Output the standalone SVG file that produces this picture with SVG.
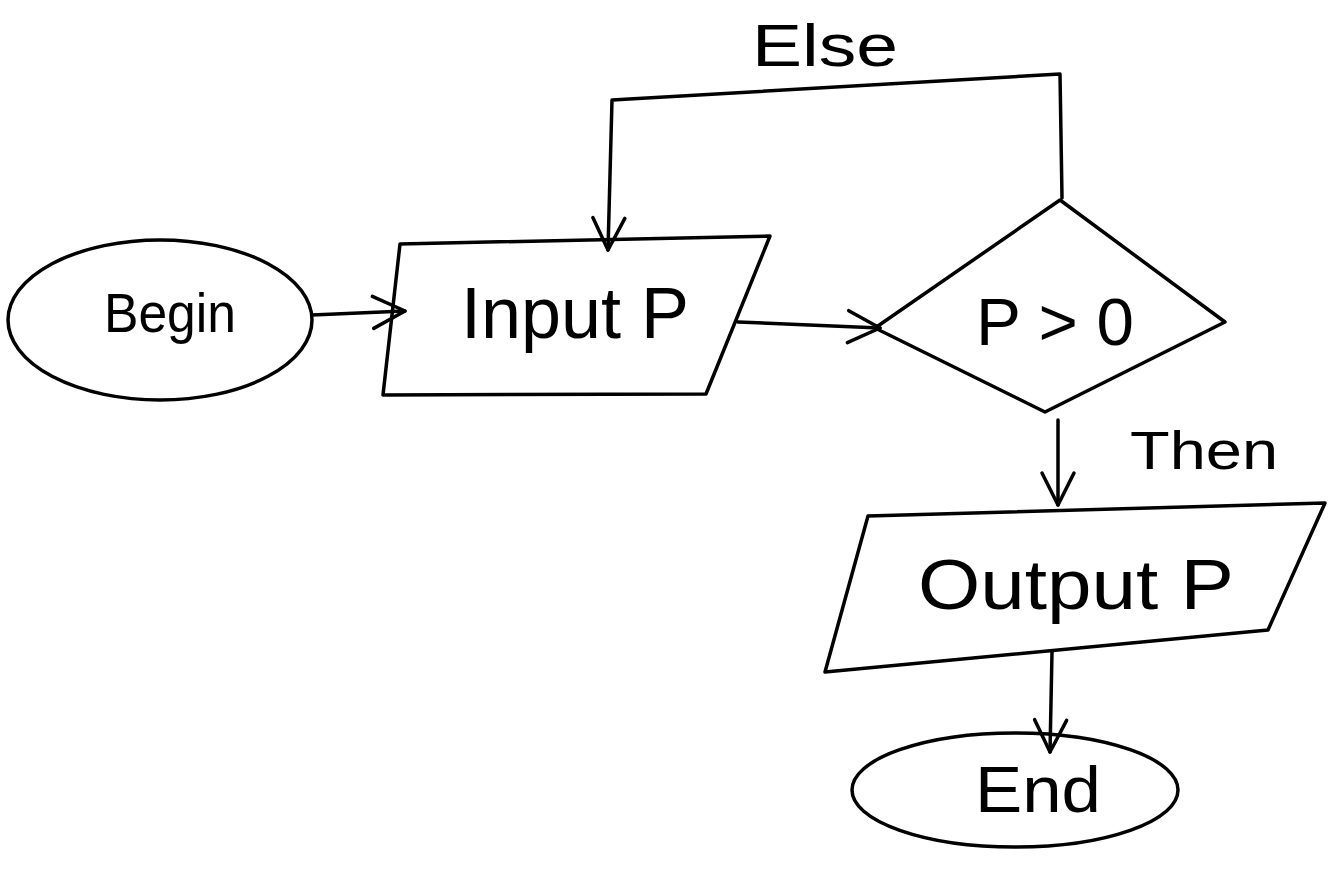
<svg xmlns="http://www.w3.org/2000/svg" width="1333" height="870" viewBox="0 0 1333 870">
<style>
.s{fill:none;stroke:#000;stroke-width:3.5;stroke-linecap:round;stroke-linejoin:round}
.t{font-family:"Liberation Sans",Arial,sans-serif;fill:#000;text-anchor:middle;dominant-baseline:central}
</style>
<defs>
<marker id="a" viewBox="0 0 40 40" refX="36" refY="20" markerWidth="40" markerHeight="40" markerUnits="userSpaceOnUse" orient="auto">
<path d="M4,4 L36,20 L4,36" fill="none" stroke="#000" stroke-width="3.5" stroke-linecap="round" stroke-linejoin="round"/>
</marker>
</defs>
<rect width="1333" height="870" fill="#fff"/>
<g id="begin">
<ellipse class="s" cx="160" cy="320" rx="152" ry="80"/>
<text class="t" x="170" y="312" font-size="56" textLength="132" lengthAdjust="spacingAndGlyphs">Begin</text>
</g>
<g id="input">
<path class="s" d="M400,244 L770,236 L706,394 L383,395 Z"/>
<text class="t" x="575" y="313" font-size="72" textLength="228" lengthAdjust="spacingAndGlyphs">Input P</text>
</g>
<g id="decision">
<path class="s" d="M1060,200 L1225,322 L1045,412 L875,328 Z"/>
<text class="t" x="1055" y="322" font-size="66" textLength="158" lengthAdjust="spacingAndGlyphs">P &gt; 0</text>
</g>
<g id="output">
<path class="s" d="M868,516 L1325,503 L1268,630 L825,672 Z"/>
<text class="t" x="1076" y="585" font-size="70" textLength="316" lengthAdjust="spacingAndGlyphs">Output P</text>
</g>
<g id="end">
<ellipse class="s" cx="1015" cy="790" rx="163" ry="57"/>
<text class="t" x="1038" y="790" font-size="64" textLength="126" lengthAdjust="spacingAndGlyphs">End</text>
</g>
<g id="connectors">
<path class="s" d="M312,315 L405,311" marker-end="url(#a)"/>
<path class="s" d="M738,322 L880,328" marker-end="url(#a)"/>
<path class="s" d="M1062,198 L1060,74 L612,100 L608,250" marker-end="url(#a)"/>
<path class="s" d="M1058,420 L1058,505" marker-end="url(#a)"/>
<path class="s" d="M1052,652 L1050,752" marker-end="url(#a)"/>
</g>
<g id="labels">
<text class="t" x="825" y="45" font-size="60" textLength="146" lengthAdjust="spacingAndGlyphs">Else</text>
<text class="t" x="1204" y="450" font-size="54" textLength="148" lengthAdjust="spacingAndGlyphs">Then</text>
</g>
</svg>
